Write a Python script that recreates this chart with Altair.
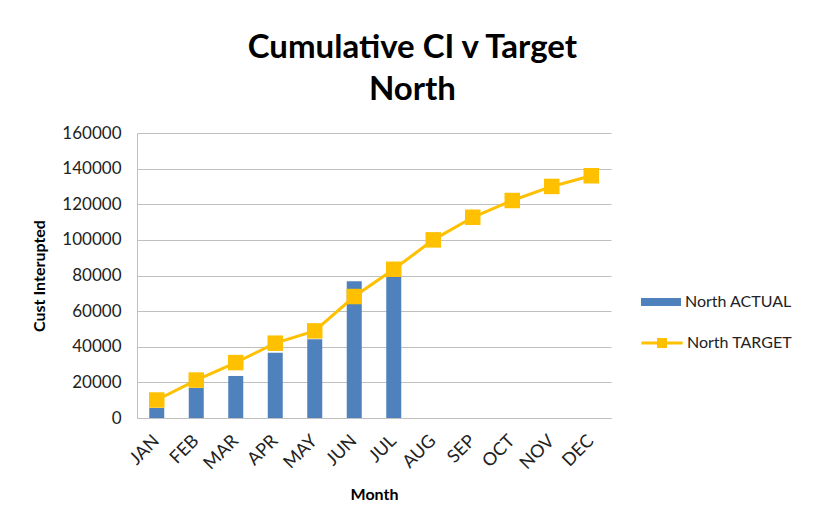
import altair as alt
import pandas as pd

months = ["JAN", "FEB", "MAR", "APR", "MAY", "JUN", "JUL", "AUG", "SEP", "OCT", "NOV", "DEC"]
actual = [5600, 16900, 23600, 36700, 44200, 76800, 79400, None, None, None, None, None]
target = [10100, 21300, 31100, 42000, 48900, 68200, 83500, 100000, 112700, 122100, 130000, 136000]
y_ticks = [0, 20000, 40000, 60000, 80000, 100000, 120000, 140000, 160000]

df = pd.DataFrame({"Month": months, "Actual": actual, "Target": target})
df["SA"] = "North ACTUAL"
df["ST"] = "North TARGET"

FONT = "Lato"
BLUE = "#4F81BD"
GOLD = "#FFC000"

x_axis = alt.Axis(
    title="Month", labelAngle=-45, labelAlign="right", labelBaseline="middle",
    labelPadding=20, ticks=False, domainColor="#BFBFBF", titlePadding=14,
    labelFont=FONT, labelFontSize=18, labelColor="#222222",
    titleFont=FONT, titleFontSize=16, titleFontWeight="bold", titleColor="#000000",
)
x_scale = alt.Scale(paddingInner=0.2, paddingOuter=0.1)
y_scale = alt.Scale(domain=[0, 160000], nice=False)
y_axis = alt.Axis(
    title="Cust Interupted", values=y_ticks, format="d", ticks=False, labelOverlap=False,
    domainColor="#BFBFBF", grid=True, gridColor="#BFBFBF", gridWidth=1,
    labelPadding=16, titlePadding=14,
    labelFont=FONT, labelFontSize=17, labelColor="#222222",
    titleFont=FONT, titleFontSize=16, titleFontWeight="bold", titleColor="#000000",
)


def xe():
    return alt.X("Month:N", sort=months, scale=x_scale, axis=x_axis)


def ye(field):
    return alt.Y(field, scale=y_scale, axis=y_axis)


bars = alt.Chart(df).mark_bar(size=15).encode(
    x=xe(),
    y=ye("Actual:Q"),
    color=alt.Color(
        "SA:N",
        scale=alt.Scale(domain=["North ACTUAL"], range=[BLUE]),
        legend=alt.Legend(
            title=None, orient="none", legendX=504, legendY=149,
            symbolType="M-1,-0.2H1V0.2H-1Z", symbolSize=1600, symbolStrokeWidth=0,
            labelFont=FONT, labelFontSize=16, labelColor="#222222", labelOffset=4,
        ),
    ),
)

line = alt.Chart(df).mark_line(color=GOLD, strokeWidth=3).encode(
    x=xe(),
    y=ye("Target:Q"),
)

points = alt.Chart(df).mark_point(shape="square", filled=True, size=240, opacity=1).encode(
    x=xe(),
    y=ye("Target:Q"),
    fill=alt.Fill(
        "ST:N",
        scale=alt.Scale(domain=["North TARGET"], range=[GOLD]),
        legend=alt.Legend(
            title=None, orient="none", legendX=504, legendY=189,
            symbolType="M-1,-0.07H-0.24V-0.24H0.24V-0.07H1V0.07H0.24V0.24H-0.24V0.07H-1Z",
            symbolSize=1700, symbolStrokeWidth=0,
            labelFont=FONT, labelFontSize=16, labelColor="#222222", labelOffset=4,
        ),
    ),
)

chart = (
    alt.layer(bars, line, points)
    .properties(
        width=474,
        height=285,
        padding={"left": 23, "top": 24, "right": 5, "bottom": 5},
        title=alt.Title(
            ["Cumulative CI v Target", "North"],
            fontSize=33, font=FONT, fontWeight="bold", color="#000000",
            anchor="middle", frame="bounds", lineHeight=42, offset=17,
        ),
    )
    .configure_view(stroke=None)
)

chart.save("out.html", embed_options={"renderer": "svg", "actions": False})
